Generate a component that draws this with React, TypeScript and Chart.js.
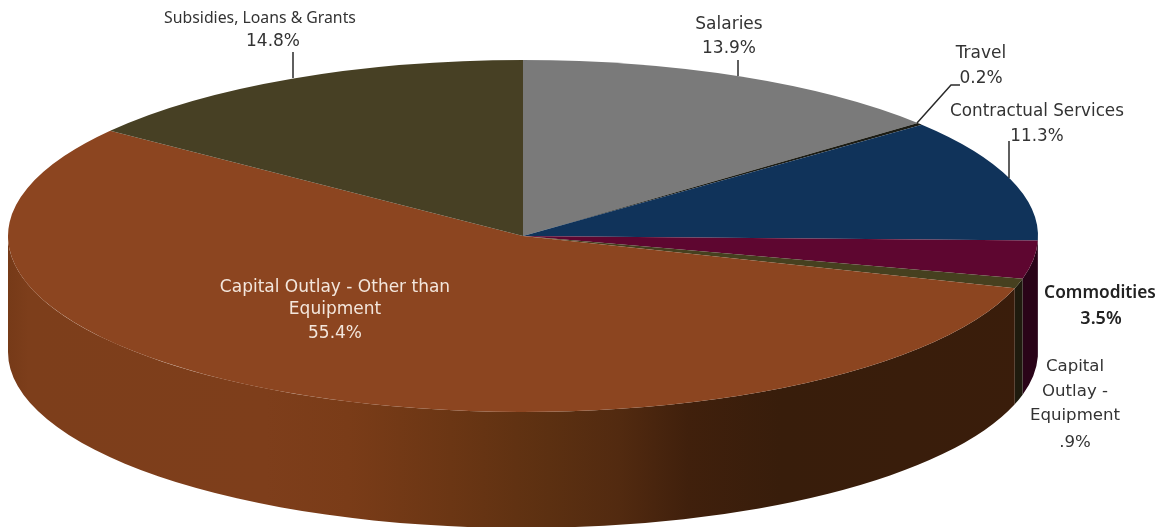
import React, { useEffect, useRef } from "react";
import { Chart, registerables } from "chart.js";

Chart.register(...registerables);

const categories = [
  "Salaries",
  "Travel",
  "Contractual Services",
  "Commodities",
  "Capital Outlay - Equipment",
  "Capital Outlay - Other than Equipment",
  "Subsidies, Loans & Grants",
];
const shares = [13.9, 0.2, 11.3, 3.5, 0.9, 55.4, 14.8];
const valueLabels = ["13.9%", "0.2%", "11.3%", "3.5%", ".9%", "55.4%", "14.8%"];
const topColours = ["#7a7a7a", "#1c1c14", "#10335a", "#5e0630", "#46401f", "#8c4520", "#474024"];
const wallColours = ["#555", "#111", "#0a2038", "#2a0418", "#1f1b0e", "#3a1d0b", "#2c2814"];

const W = 1165;
const H = 527;
const CX = 523;
const CY = 236;
const RX = 515;
const RY = 176;
const DEPTH = 116;
const WIDE = "'DejaVu Sans', sans-serif";
const NARROW = "'Noto Sans', sans-serif";

const labelLayout = [
  { x: 729, ys: [25, 49], lines: ["Salaries"], color: "#333", font: `400 17px ${WIDE}` },
  { x: 981, ys: [54, 79], lines: ["Travel"], color: "#333", font: `400 17px ${WIDE}` },
  { x: 1037, ys: [112, 137], lines: ["Contractual Services"], color: "#333", font: `400 16.8px ${WIDE}` },
  { x: 1100, ys: [293, 319], lines: ["Commodities"], color: "#222", font: `600 17.3px ${NARROW}`, valueFont: `600 18px ${NARROW}`, valueX: 1101 },
  { x: 1075, ys: [367, 392, 416, 443], lines: ["Capital", "Outlay -", "Equipment"], color: "#333", font: `400 16.6px ${WIDE}` },
  { x: 335, ys: [288, 310, 334], lines: ["Capital Outlay - Other than", "Equipment"], color: "#f3e6dc", font: `400 17px ${WIDE}` },
  { x: 260, ys: [18, 42], lines: ["Subsidies, Loans & Grants"], color: "#333", font: `400 15.8px ${NARROW}`, valueFont: `400 17px ${WIDE}`, valueX: 273 },
];
const leaders = [
  [[738, 60], [738, 76]],
  [[917, 123], [951, 85], [960, 85]],
  [[1009, 141], [1009, 178]],
  [[293, 52], [293, 78]],
];

const pie3d = {
  id: "pie3d",
  beforeDatasetsDraw(chart: any) {
    const ctx = chart.ctx;
    const arcs = chart.getDatasetMeta(0).data;
    ctx.save();
    const gradient = ctx.createLinearGradient(CX - RX, 0, CX + RX, 0);
    gradient.addColorStop(0, "#763a18");
    gradient.addColorStop(0.02, "#7d3e1b");
    gradient.addColorStop(0.25, "#7e3e1b");
    gradient.addColorStop(0.33, "#7a3c18");
    gradient.addColorStop(0.43, "#6b3614");
    gradient.addColorStop(0.525, "#5c3011");
    gradient.addColorStop(0.594, "#522a10");
    gradient.addColorStop(0.66, "#40200c");
    gradient.addColorStop(0.75, "#381d0b");
    gradient.addColorStop(1, "#3a1d0b");
    arcs.forEach((arc: any, i: number) => {
      const a0 = Math.max(arc.startAngle, 0);
      const a1 = Math.min(arc.endAngle, Math.PI);
      if (a1 <= a0) return;
      ctx.beginPath();
      ctx.ellipse(CX, CY, RX, RY, 0, a0, a1);
      ctx.ellipse(CX, CY + DEPTH, RX, RY, 0, a1, a0, true);
      ctx.closePath();
      ctx.fillStyle = i === 5 ? gradient : wallColours[i];
      ctx.fill();
    });
    // the top face is a circle in the chart's own layout, flattened here
    const s = RY / arcs[0].outerRadius;
    ctx.transform(1, 0, 0, s, 0, CY - s * arcs[0].y);
  },
  afterDatasetsDraw(chart: any) {
    const ctx = chart.ctx;
    ctx.restore();
    ctx.save();
    ctx.strokeStyle = "#2a2a2a";
    ctx.lineWidth = 1.5;
    leaders.forEach((pts) => {
      ctx.beginPath();
      pts.forEach(([x, y], k) => (k ? ctx.lineTo(x, y) : ctx.moveTo(x, y)));
      ctx.stroke();
    });
    ctx.textAlign = "center";
    ctx.textBaseline = "middle";
    labelLayout.forEach((l: any, i) => {
      ctx.fillStyle = l.color;
      ctx.font = l.font;
      l.lines.forEach((t: string, k: number) => ctx.fillText(t, l.x, l.ys[k]));
      ctx.font = l.valueFont || l.font;
      ctx.fillText(valueLabels[i], l.valueX || l.x, l.ys[l.lines.length]);
    });
    ctx.restore();
  },
};

export default function App() {
  const ref = useRef<HTMLCanvasElement>(null);
  useEffect(() => {
    document.body.style.margin = "0";
    const chart = new Chart(ref.current!, {
      type: "pie",
      data: {
        labels: categories,
        datasets: [{ data: shares, backgroundColor: topColours, borderWidth: 0 }],
      },
      options: {
        animation: false,
        responsive: false,
        devicePixelRatio: 1,
        layout: { padding: { left: CX - RX, right: W - (CX + RX), top: 0, bottom: 0 } },
        plugins: { legend: { display: false }, tooltip: { enabled: false } },
      },
      plugins: [pie3d],
    } as any);
    return () => chart.destroy();
  }, []);
  return (
    <div style={{ width: W, height: H, overflow: "hidden", background: "#fff", position: "relative" }}>
      <canvas ref={ref} width={W} height={RX * 2} style={{ display: "block" }} />
    </div>
  );
}
